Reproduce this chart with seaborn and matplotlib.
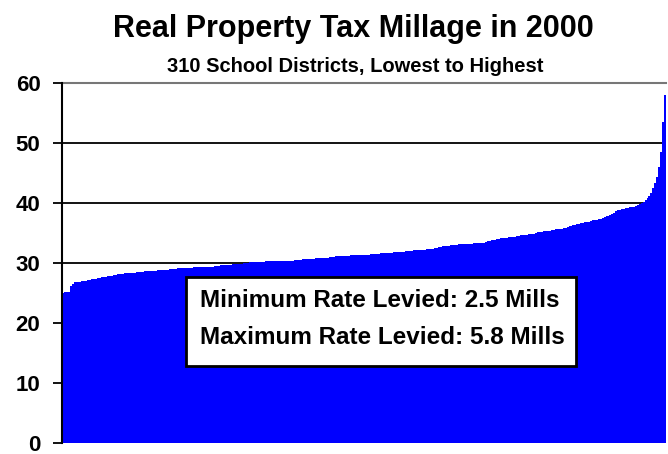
import numpy as np
import pandas as pd
import matplotlib
matplotlib.use('Agg')
import matplotlib.pyplot as plt
import seaborn as sns
from matplotlib.patches import Rectangle

# Millage por distrito (ordenado do menor para o maior)
millage = [
    25.0, 25.1, 25.1, 25.2, 26.1, 26.5, 26.8, 26.8, 26.9, 26.9,
    27.0, 27.0, 27.0, 27.1, 27.2, 27.3, 27.3, 27.4, 27.5, 27.5,
    27.6, 27.6, 27.7, 27.8, 27.9, 27.9, 28.0, 28.0, 28.1, 28.1,
    28.2, 28.2, 28.3, 28.3, 28.3, 28.4, 28.4, 28.4, 28.5, 28.5,
    28.5, 28.5, 28.6, 28.6, 28.6, 28.7, 28.7, 28.7, 28.7, 28.8,
    28.8, 28.8, 28.9, 28.9, 28.9, 29.0, 29.0, 29.0, 29.0, 29.1,
    29.1, 29.1, 29.1, 29.2, 29.2, 29.2, 29.2, 29.3, 29.3, 29.3,
    29.3, 29.3, 29.4, 29.4, 29.4, 29.4, 29.4, 29.4, 29.5, 29.5,
    29.5, 29.6, 29.6, 29.6, 29.7, 29.7, 29.7, 29.8, 29.8, 29.8,
    29.9, 29.9, 29.9, 30.0, 30.0, 30.0, 30.1, 30.1, 30.2, 30.2,
    30.2, 30.2, 30.2, 30.2, 30.3, 30.3, 30.3, 30.3, 30.3, 30.3,
    30.3, 30.4, 30.4, 30.4, 30.4, 30.4, 30.4, 30.4, 30.4, 30.5,
    30.5, 30.5, 30.5, 30.6, 30.6, 30.6, 30.6, 30.7, 30.7, 30.7,
    30.8, 30.8, 30.8, 30.9, 30.9, 30.9, 30.9, 31.0, 31.0, 31.0,
    31.1, 31.1, 31.1, 31.2, 31.2, 31.2, 31.2, 31.2, 31.3, 31.3,
    31.3, 31.3, 31.3, 31.4, 31.4, 31.4, 31.4, 31.4, 31.5, 31.5,
    31.5, 31.5, 31.5, 31.6, 31.6, 31.6, 31.6, 31.7, 31.7, 31.7,
    31.8, 31.8, 31.8, 31.9, 31.9, 31.9, 32.0, 32.0, 32.0, 32.0,
    32.1, 32.1, 32.1, 32.1, 32.2, 32.2, 32.2, 32.3, 32.3, 32.4,
    32.4, 32.5, 32.5, 32.6, 32.7, 32.8, 32.9, 32.9, 32.9, 33.0,
    33.0, 33.0, 33.0, 33.1, 33.1, 33.1, 33.1, 33.1, 33.2, 33.2,
    33.2, 33.3, 33.3, 33.3, 33.3, 33.4, 33.4, 33.5, 33.6, 33.7,
    33.8, 33.9, 33.9, 34.0, 34.0, 34.1, 34.1, 34.2, 34.2, 34.3,
    34.3, 34.4, 34.4, 34.5, 34.5, 34.6, 34.6, 34.7, 34.7, 34.8,
    34.8, 34.9, 34.9, 35.0, 35.1, 35.2, 35.2, 35.3, 35.3, 35.4,
    35.4, 35.5, 35.5, 35.6, 35.6, 35.7, 35.7, 35.8, 35.9, 36.0,
    36.1, 36.2, 36.3, 36.4, 36.5, 36.5, 36.6, 36.7, 36.8, 36.9,
    36.9, 37.0, 37.1, 37.2, 37.2, 37.3, 37.4, 37.5, 37.7, 37.8,
    37.9, 38.0, 38.2, 38.4, 38.6, 38.8, 38.9, 39.0, 39.0, 39.1,
    39.2, 39.3, 39.3, 39.4, 39.5, 39.7, 39.9, 40.0, 40.2, 40.5,
    40.8, 41.1, 41.7, 42.5, 43.3, 44.4, 46.0, 48.5, 53.5, 58.0,
]
districts = np.arange(1, len(millage) + 1)
y_ticks = [0, 10, 20, 30, 40, 50, 60]
grid_values = [10, 20, 30, 40, 50]

title = 'Real Property Tax Millage in 2000'
subtitle = '310 School Districts, Lowest to Highest'
box_lines = ['Minimum Rate Levied: 2.5 Mills',
             'Maximum Rate Levied: 5.8 Mills']

# Configurações visuais
sns.set_style('white')
plt.rcParams['font.family'] = ['Liberation Sans', 'DejaVu Sans']
plt.rcParams['font.weight'] = 'bold'
plt.rcParams['text.color'] = 'black'
plt.rcParams['ytick.color'] = 'black'
plt.rcParams['ytick.labelcolor'] = 'black'

W, H = 668, 454
fig = plt.figure(figsize=(W / 100, H / 100), dpi=100)
ax = fig.add_axes([62 / W, 1 - 443 / H, (666 - 62) / W, (443 - 83) / H])

df = pd.DataFrame({'distrito': districts, 'millage': millage})

# linhas de grade atrás das barras
for v in grid_values:
    ax.axhline(v, color='black', linewidth=1.3, zorder=1)

sns.barplot(data=df, x='distrito', y='millage', color='#0000FF',
            saturation=1, width=1.0, errorbar=None,
            linewidth=0, antialiased=False, ax=ax, zorder=2)

ax.set_xlim(-0.5, len(millage) - 0.5)
ax.set_ylim(0, 60)
ax.set_yticks(y_ticks)
ax.set_xticks([])
ax.set_xlabel('')
ax.set_ylabel('')
ax.tick_params(axis='y', left=True, direction='out', length=6.5,
               width=1.3, color='black', labelcolor='black',
               labelsize=16, pad=9)

for side in ['right', 'bottom']:
    ax.spines[side].set_visible(False)
ax.spines['left'].set_color('black')
ax.spines['left'].set_linewidth(1.5)
ax.spines['left'].set_zorder(3)
ax.spines['top'].set_color('#777777')
ax.spines['top'].set_linewidth(1.5)

# Títulos
fig.text(353 / W, 1 - 37 / H, title, ha='center', va='baseline',
         fontsize=22, fontweight='bold', color='black')
fig.text(355 / W, 1 - 72 / H, subtitle, ha='center', va='baseline',
         fontsize=14.5, fontweight='bold', color='black')

# Caixa com mínimo e máximo
box = Rectangle((186 / W, 1 - 366 / H), (576 - 186) / W, (366 - 277) / H,
                transform=fig.transFigure, facecolor='white',
                edgecolor='black', linewidth=2, zorder=5)
fig.add_artist(box)
fig.text(200 / W, 1 - 307 / H, box_lines[0], ha='left', va='baseline',
         fontsize=17.5, fontweight='bold', color='black', zorder=6)
fig.text(200 / W, 1 - 344 / H, box_lines[1], ha='left', va='baseline',
         fontsize=17.5, fontweight='bold', color='black', zorder=6)

fig.savefig('out.png', dpi=100)
